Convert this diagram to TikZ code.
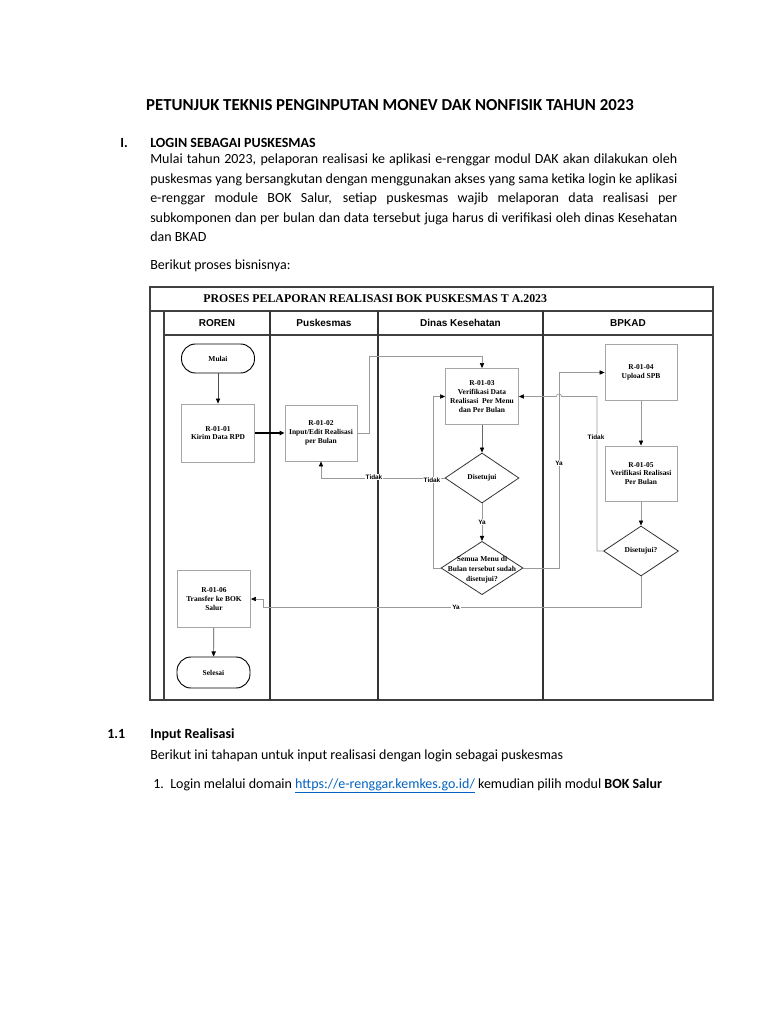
\documentclass[tikz,border=0pt]{standalone}
\usepackage{fontspec}
\setmainfont{Carlito}
\newfontfamily\flowserif{Liberation Serif}
\newfontfamily\flowsans{Liberation Sans}
\usetikzlibrary{arrows.meta,shapes.geometric}
\definecolor{linkblue}{HTML}{0563C1}
\tikzset{
  frameline/.style={draw=black!75, line width=0.8pt},
  laneline/.style={draw=black!80, line width=0.9pt},
  procbox/.style={draw=black!35, line width=0.6pt, fill=white, inner sep=0pt, align=center,
    font=\flowserif\bfseries\fontsize{5.6}{6.6}\selectfont},
  termbox/.style={draw=black, line width=0.7pt, rounded corners=10.5pt, inner sep=0pt, align=center,
    font=\flowserif\bfseries\fontsize{5.6}{6.6}\selectfont},
  decbox/.style={diamond, draw=black!80, line width=0.6pt, inner sep=0pt},
  dectext/.style={align=center, inner sep=0pt, font=\flowserif\bfseries\fontsize{5.6}{7.4}\selectfont},
  conn/.style={draw=black!40, line width=0.5pt},
  arr/.style={-{Triangle[length=3.8pt,width=3.2pt,color=black]}},
  lbl/.style={inner sep=0.6pt, fill=white, font=\flowsans\bfseries\fontsize{4.8}{5.5}\selectfont},
  lanehead/.style={inner sep=0pt, font=\flowsans\bfseries\fontsize{7.5}{9}\selectfont},
  bodytext/.style={anchor=base west, inner sep=0pt, font=\fontsize{10.5}{13}\selectfont},
  boldtext/.style={anchor=base west, inner sep=0pt, font=\fontsize{10.5}{13}\selectfont\bfseries},
}
\begin{document}
\begin{tikzpicture}[x=0.75pt,y=-0.75pt]
\useasboundingbox (0,0) rectangle (768,1024);
\fill[white] (0,0) rectangle (768,1024);

% ---------- document text ----------
\node[anchor=base, inner sep=0pt, font=\fontsize{12.6}{15}\selectfont\bfseries] (title) at (390,110)
  {PETUNJUK TEKNIS PENGINPUTAN MONEV DAK NONFISIK TAHUN 2023};
\node[boldtext] (secnum) at (120,147) {I.};
\node[boldtext] (sechead) at (150,147) {LOGIN SEBAGAI PUSKESMAS};
\node[bodytext] (p1) at (150,163.5) {\makebox[395.25pt][s]{Mulai tahun 2023, pelaporan realisasi ke aplikasi e-renggar modul DAK akan dilakukan oleh}};
\node[bodytext] (p2) at (150,183) {\makebox[395.25pt][s]{puskesmas yang bersangkutan dengan menggunakan akses yang sama ketika login ke aplikasi}};
\node[bodytext] (p3) at (150,202.5) {\makebox[395.25pt][s]{e-renggar module BOK Salur, setiap puskesmas wajib melaporan data realisasi per}};
\node[bodytext] (p4) at (150,222) {\makebox[395.25pt][s]{subkomponen dan per bulan dan data tersebut juga harus di verifikasi oleh dinas Kesehatan}};
\node[bodytext] (p5) at (150,241.5) {dan BKAD};
\node[bodytext] (p6) at (150,269.5) {Berikut proses bisnisnya:};

% ---------- flowchart frame ----------
\draw[frameline] (150,287) rectangle (713,700);
\draw[frameline] (150,311) -- (713,311);
\draw[frameline] (164,311) -- (164,700);
\draw[frameline] (164,335) -- (713,335);
\draw[laneline] (270,311) -- (270,700);
\draw[laneline, line width=1.3pt] (378,311) -- (378,700);
\draw[laneline] (543,311) -- (543,700);
\node[anchor=west, inner sep=0pt, font=\flowserif\bfseries\fontsize{8.9}{10}\selectfont] (ftitle) at (203,299)
  {PROSES PELAPORAN REALISASI BOK PUSKESMAS T A.2023};
\node[lanehead] (h1) at (217,323) {ROREN};
\node[lanehead] (h2) at (324,323) {Puskesmas};
\node[lanehead] (h3) at (460.5,323) {Dinas Kesehatan};
\node[lanehead] (h4) at (628,323) {BPKAD};

% ---------- flowchart nodes ----------
\node[termbox, minimum width=54.75pt, minimum height=21.75pt] (mulai) at (218,358.5) {Mulai};
\node[procbox, minimum width=54.75pt, minimum height=43.5pt] (r1) at (218,433) {R-01-01\\Kirim Data RPD};
\node[procbox, minimum width=54pt, minimum height=42pt] (r2) at (321,433) {R-01-02\\Input/Edit Realisasi\\per Bulan};
\node[procbox, minimum width=54.75pt, minimum height=42pt] (r3) at (482,396.5) {R-01-03\\Verifikasi Data\\Realisasi \ Per Menu\\dan Per Bulan};
\node[procbox, minimum width=54pt, minimum height=42pt] (r4) at (641,372.5) {R-01-04\\Upload SPB};
\node[procbox, minimum width=54pt, minimum height=41.25pt] (r5) at (641,473.5) {R-01-05\\Verifikasi Realisasi\\Per Bulan};
\node[decbox, minimum width=55.5pt, minimum height=37.5pt] (d1) at (482,478) {};
\node[dectext] (d1t) at (d1.center) {Disetujui};
\node[decbox, minimum width=61.5pt, minimum height=40pt] (d2) at (482,568) {};
\node[dectext] (d2t) at (482,570) {Semua Menu di\\Bulan tersebut sudah\\disetujui?};
\node[decbox, minimum width=56.25pt, minimum height=37.5pt] (d3) at (641,551) {};
\node[dectext] (d3t) at (d3.center) {Disetujui?};
\node[procbox, minimum width=54.75pt, minimum height=42.75pt] (r6) at (214,599) {R-01-06\\Transfer ke BOK\\Salur};
\node[termbox, minimum width=54.75pt, minimum height=23.25pt] (sel) at (213.5,672.5) {Selesai};

% ---------- coordinates for bends ----------
\coordinate (c1) at (369,356);
\coordinate (c2) at (433,396.5);
\coordinate (c3) at (559,568);
\coordinate (c3b) at (559,372.5);
\coordinate (c4) at (597,396.5);
\coordinate (hopR) at (561.5,396.5);
\coordinate (c5) at (641,607);
\coordinate (c6) at (263,607);
\coordinate (c7) at (263,599);

% ---------- connectors ----------
\draw[conn, draw=black!70, arr] (mulai) -- (r1);
\draw[draw=black, line width=1pt, arr] (r1) -- (r2);
\draw[conn, arr] (r2.east) -| (c1) -| (r3.north);
\draw[conn, draw=black!60, arr] (r3) -- (d1);
\draw[conn, arr] (d1.south) -- node[lbl] (ya1) {Ya} (d2.north);
\draw[conn, arr] (d1.west) -| (r2.south);
\node[lbl] (tidak1) at (374,477) {Tidak};
\draw[conn, arr] (d2.west) -| (c2) -- (r3.west);
\node[lbl] (tidak2) at (432,480) {Tidak};
\draw[conn, arr] (d2.east) -- (c3) -- (c3b) -- (r4.west);
\node[lbl] (ya2) at (559,463) {Ya};
\draw[conn, arr] (r4) -- (r5);
\draw[conn, arr] (r5) -- (d3);
\draw[conn, arr] (d3.west) -| (c4) -- (hopR) arc[start angle=0, end angle=180, radius=1.9pt] -- (r3.east);
\node[lbl] (tidak3) at (596,437) {Tidak};
\draw[conn, arr] (d3.south) -- (c5) -- (c6) -- (c7) -- (r6.east);
\node[lbl] (ya3) at (456,607) {Ya};
\draw[conn, draw=black!70, arr] (r6) -- (sel);

% ---------- lower text ----------
\node[boldtext] (n11) at (107,738) {1.1};
\node[boldtext] (n11h) at (150,738) {Input Realisasi};
\node[bodytext] (q1) at (150,759) {Berikut ini tahapan untuk input realisasi dengan login sebagai puskesmas};
\node[bodytext] (q2n) at (153,788) {1.};
\node[bodytext] (q2) at (170,788)
  {Login melalui domain \textcolor{linkblue}{\underline{https://e-renggar.kemkes.go.id/}} kemudian pilih modul \textbf{BOK Salur}};
\end{tikzpicture}
\end{document}
